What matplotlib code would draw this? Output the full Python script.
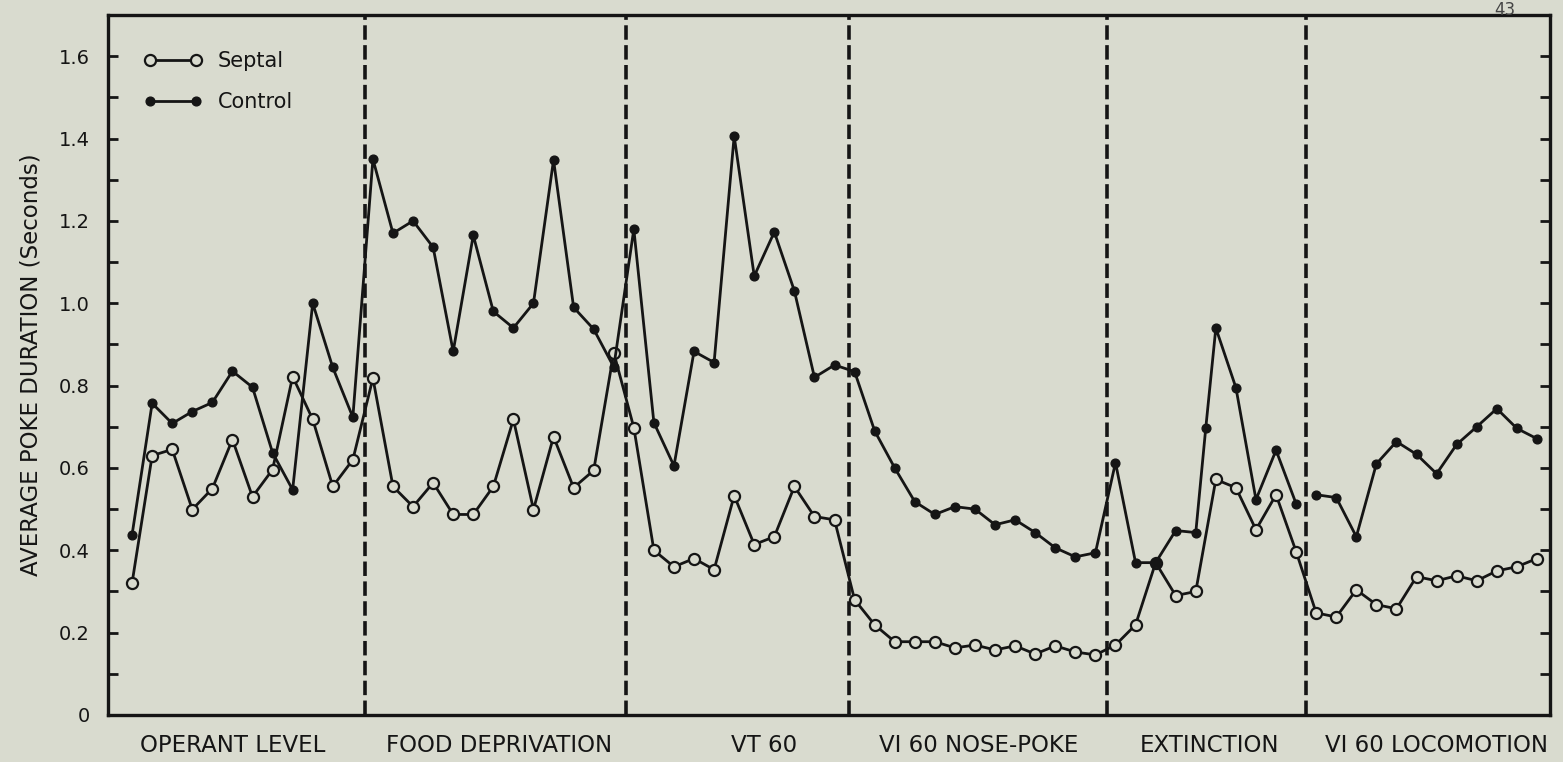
import matplotlib
matplotlib.use('Agg')
import matplotlib.pyplot as plt
import numpy as np
from matplotlib.ticker import MultipleLocator, FuncFormatter

# session index for each point
sessions = list(range(71))

septal = [0.321, 0.630, 0.645, 0.499, 0.550, 0.669, 0.530, 0.596, 0.822, 0.718, 0.555, 0.620,
          0.818, 0.555, 0.506, 0.564, 0.487, 0.487, 0.555, 0.718, 0.499, 0.676, 0.552, 0.594, 0.880,
          0.698, 0.400, 0.360, 0.380, 0.353, 0.533, 0.414, 0.433, 0.555, 0.482, 0.474,
          0.280, 0.219, 0.178, 0.178, 0.178, 0.163, 0.170, 0.158, 0.168, 0.148, 0.168, 0.153, 0.146,
          0.170, 0.219, 0.370, 0.290, 0.300, 0.572, 0.552, 0.450, 0.535, 0.397,
          0.248, 0.238, 0.304, 0.268, 0.258, 0.336, 0.326, 0.338, 0.326, 0.350, 0.360, 0.380]

control_x = list(range(54)) + [53.5] + list(range(54, 71))
control = [0.438, 0.757, 0.708, 0.737, 0.759, 0.835, 0.796, 0.637, 0.547, 1.000, 0.844, 0.723,
           1.350, 1.170, 1.200, 1.136, 0.883, 1.165, 0.980, 0.940, 1.000, 1.348, 0.990, 0.937, 0.845,
           1.180, 0.710, 0.605, 0.883, 0.856, 1.406, 1.066, 1.173, 1.030, 0.820, 0.850,
           0.834, 0.690, 0.600, 0.518, 0.487, 0.506, 0.500, 0.462, 0.474, 0.443, 0.406, 0.384, 0.394,
           0.613, 0.370, 0.370, 0.448, 0.443, 0.698, 0.940, 0.795, 0.523, 0.643, 0.513,
           0.535, 0.528, 0.433, 0.610, 0.664, 0.633, 0.586, 0.657, 0.700, 0.744, 0.696, 0.671]
# control line is broken between extinction and locomotion
control_break = 60

phase_names = ["OPERANT LEVEL", "FOOD DEPRIVATION", "VT 60", "VI 60 NOSE-POKE",
               "EXTINCTION", "VI 60 LOCOMOTION"]
phase_bounds = [11.6, 24.6, 35.7, 48.6, 58.5]

# layout
label_pos = [5.0, 18.3, 31.5, 42.2, 53.7, 65.0]
ink = '#151515'
bg = '#d9dbcf'

fig = plt.figure(figsize=(15.63, 7.62), dpi=100)
fig.patch.set_facecolor(bg)
ax = fig.add_axes([108/1563, 47/762, 1442/1563, 700/762])
ax.set_facecolor(bg)

for b in phase_bounds:
    ax.axvline(b, color=ink, lw=2.6, ls=(0, (4, 1.5)), zorder=1)

ax.plot(sessions, septal, '-o', color=ink, lw=2.0, markersize=8,
        markerfacecolor=bg, markeredgecolor=ink, markeredgewidth=1.6,
        label='Septal', zorder=3)
ax.plot(control_x[:control_break], control[:control_break], '-o', color=ink, lw=2.0,
        markersize=6.3, label='Control', zorder=4)
ax.plot(control_x[control_break:], control[control_break:], '-o', color=ink, lw=2.0,
        markersize=6.3, zorder=4)

ax.set_xlim(-1.2, 70.65)
ax.set_ylim(0, 1.70)
ax.set_xticks([])
ax.yaxis.set_major_locator(MultipleLocator(0.2))
ax.yaxis.set_minor_locator(MultipleLocator(0.1))
ax.yaxis.set_major_formatter(FuncFormatter(lambda v, p: '0' if abs(v) < 1e-9 else '%.1f' % v))
ax.tick_params(axis='y', which='both', direction='in', length=7, width=2,
               right=True, color=ink, labelsize=14, pad=13, labelcolor=ink)
for s in ax.spines.values():
    s.set_linewidth(2.4)
    s.set_color(ink)

ax.set_ylabel('AVERAGE POKE DURATION (Seconds)', fontsize=16.5, color=ink, labelpad=12)

for name, x in zip(phase_names, label_pos):
    ax.text(x, -0.043, name, transform=ax.get_xaxis_transform(), ha='center', va='center',
            fontsize=16.5, color=ink)

ax.legend(loc='upper left', bbox_to_anchor=(0.012, 0.975), frameon=False, numpoints=2,
          handlelength=2.8, handletextpad=0.75, labelspacing=1.0, fontsize=15,
          labelcolor=ink)

fig.text(0.963, 0.999, '43', fontsize=12, color='#444444', va='top', ha='center')

fig.savefig('out.png', dpi=100, facecolor=bg)
